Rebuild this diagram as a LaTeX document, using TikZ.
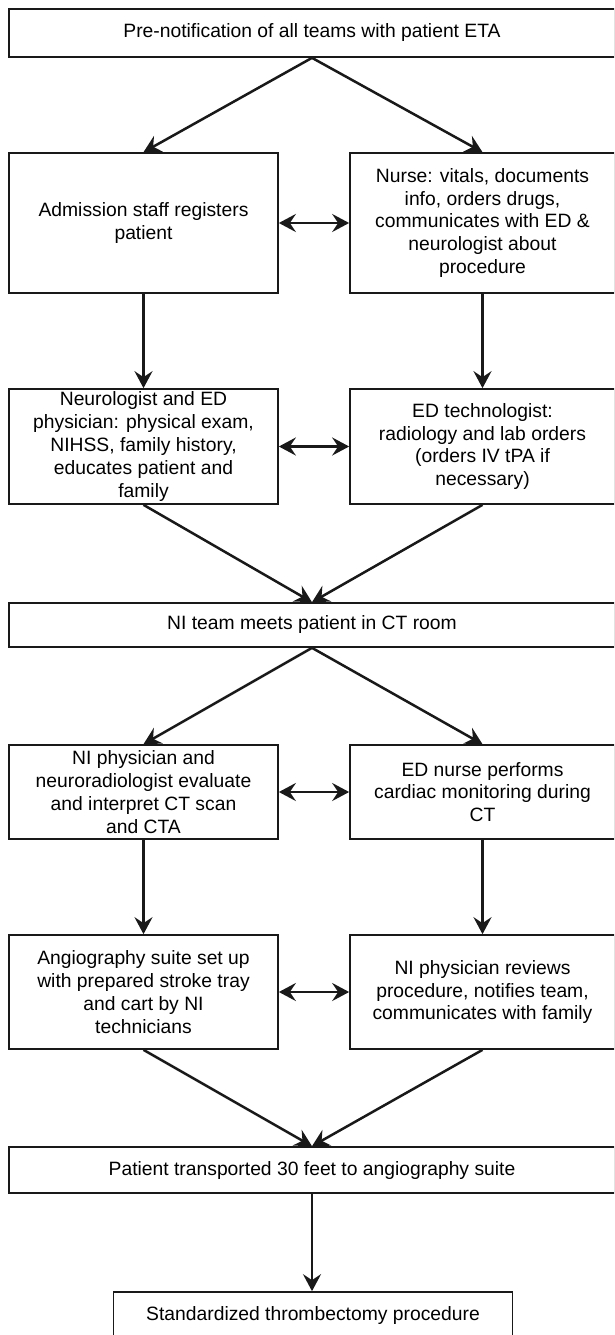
\documentclass[tikz,border=0pt]{standalone}
\usepackage{fontspec}
\setmainfont{Liberation Sans}
\usetikzlibrary{arrows.meta}
\begin{document}
\begin{tikzpicture}[x=1pt,y=-1pt,
  box/.style={draw=black!90,line width=1.7pt,align=center,inner sep=0pt,
    font=\fontsize{19.3}{22.8}\selectfont,text=black},
  wide/.style={box,minimum width=606pt},
  half/.style={box,minimum width=269pt},
  halfr/.style={box,minimum width=265pt},
  tipx/.style={Stealth[length=17pt,width=18pt,inset=6pt]},
  arr/.style={draw=black!90,line width=2.5pt,-{Stealth[length=17pt,width=18pt,inset=6pt]}},
  darr/.style={draw=black!90,line width=2.5pt,{Stealth[length=17pt,width=18pt,inset=6pt]}-{Stealth[length=17pt,width=18pt,inset=6pt]}}
]
\useasboundingbox (0,0) rectangle (614,1335);
\clip (0,0) rectangle (614,1335);
\fill[white] (0,0) rectangle (614,1335);

\node[wide,minimum height=48pt] (top) at (312,33) {Pre-notification of all teams with patient ETA};

\node[half,minimum height=140pt] (A) at (143.5,223) {Admission staff registers\\patient};
\node[halfr,minimum height=140pt] (B) at (482.5,223) {Nurse: vitals, documents\\info, orders drugs,\\communicates with ED \&\\neurologist about\\procedure};

\node[half,minimum height=115pt] (C) at (143.5,446.5) {Neurologist and ED\\physician: physical exam,\\NIHSS, family history,\\educates patient and\\family};
\node[halfr,minimum height=115pt] (D) at (482.5,446.5) {ED technologist:\\radiology and lab orders\\(orders IV tPA if\\necessary)};

\node[wide,minimum height=44pt] (NI) at (312,625) {NI team meets patient in CT room};

\node[half,minimum height=94pt] (E) at (143.5,792) {NI physician and\\neuroradiologist evaluate\\and interpret CT scan\\and CTA};
\node[halfr,minimum height=94pt] (F) at (482.5,792) {ED nurse performs\\cardiac monitoring during\\CT};

\node[half,minimum height=114pt] (G) at (143.5,992) {Angiography suite set up\\with prepared stroke tray\\and cart by NI\\technicians};
\node[halfr,minimum height=114pt] (H) at (482.5,992) {NI physician reviews\\procedure, notifies team,\\communicates with family};

\node[wide,minimum height=46pt] (P) at (312,1170) {Patient transported 30 feet to angiography suite};

\node[box,minimum width=399pt,minimum height=46pt] (S) at (313,1315) {Standardized thrombectomy procedure};

\draw[arr] (top.south) -- (A.north);
\draw[arr] (top.south) -- (B.north);
\draw[darr] (A.east) -- (B.west);
\draw[arr] (A.south) -- (C.north);
\draw[arr] (B.south) -- (D.north);
\draw[darr] (C.east) -- (D.west);
\draw[arr] (C.south) -- (NI.north);
\draw[arr] (D.south) -- (NI.north);
\draw[arr] (NI.south) -- (E.north);
\draw[arr] (NI.south) -- (F.north);
\draw[darr] (E.east) -- (F.west);
\draw[arr] (E.south) -- (G.north);
\draw[arr] (F.south) -- (H.north);
\draw[darr] (G.east) -- (H.west);
\draw[arr] (G.south) -- (P.north);
\draw[arr] (H.south) -- (P.north);
\draw[arr] (P.south) -- (P.south |- S.north);
\end{tikzpicture}
\end{document}
